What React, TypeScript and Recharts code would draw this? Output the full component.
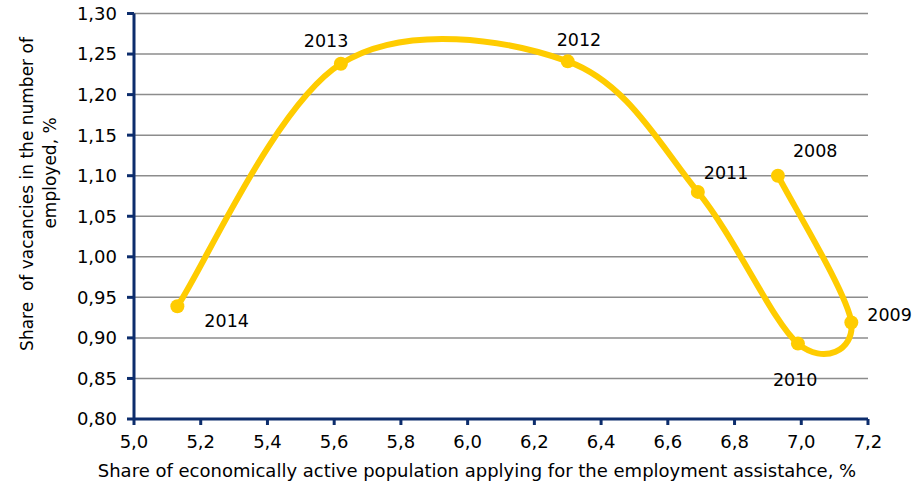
import React from "react";
import { LineChart, Line, XAxis, YAxis, CartesianGrid, LabelList, Label } from "recharts";

const years = ["2008", "2009", "2010", "2011", "2012", "2013", "2014"];
const assistanceShare = [6.93, 7.15, 6.99, 6.69, 6.3, 5.62, 5.13];
const vacancyShare = [1.1, 0.919, 0.893, 1.08, 1.241, 1.238, 0.939];

const xTicks = [5.0, 5.2, 5.4, 5.6, 5.8, 6.0, 6.2, 6.4, 6.6, 6.8, 7.0, 7.2];
const yTicks = [0.8, 0.85, 0.9, 0.95, 1.0, 1.05, 1.1, 1.15, 1.2, 1.25, 1.3];

const rows = years.map((year, i) => ({ year, x: assistanceShare[i], y: vacancyShare[i] }));

// where each year label sits relative to its point
const labelOffset: Record<string, [number, number]> = {
  "2008": [15, -25],
  "2009": [16, -7],
  "2010": [-25, 36],
  "2011": [6, -19],
  "2012": [-11, -21],
  "2013": [-37, -23],
  "2014": [27, 15],
};

const FONT = "'DejaVu Sans', Verdana, sans-serif";
const NAVY = "#0d2d6c";
const YELLOW = "#ffcc00";

// Excel style smoothed line: cubic bezier, control points from neighbours / 6
function excelCurve(context: any) {
  let pts: [number, number][] = [];
  return {
    areaStart() {},
    areaEnd() {},
    lineStart() {
      pts = [];
    },
    point(x: number, y: number) {
      pts.push([+x, +y]);
    },
    lineEnd() {
      if (!pts.length) return;
      context.moveTo(pts[0][0], pts[0][1]);
      for (let i = 0; i < pts.length - 1; i++) {
        const p0 = pts[i - 1] || pts[i];
        const p1 = pts[i];
        const p2 = pts[i + 1];
        const p3 = pts[i + 2] || pts[i + 1];
        context.bezierCurveTo(
          p1[0] + (p2[0] - p0[0]) / 6,
          p1[1] + (p2[1] - p0[1]) / 6,
          p2[0] - (p3[0] - p1[0]) / 6,
          p2[1] - (p3[1] - p1[1]) / 6,
          p2[0],
          p2[1]
        );
      }
    },
  };
}

const yearLabel = (props: any) => {
  const { x, y, value } = props;
  const [dx, dy] = labelOffset[value] || [0, 0];
  return (
    <text x={x + dx} y={y + dy} dominantBaseline="central" fontSize={17.5} fontFamily={FONT} fill="#000">
      {value}
    </text>
  );
};

const yTitle = () => (
  <g fontFamily={FONT} fontSize={17} fill="#000" textAnchor="middle">
    <text x={27} y={194} transform="rotate(-90 27 194)" dominantBaseline="central" style={{ whiteSpace: "pre" }}>
      {"Share  of vacancies in the number of"}
    </text>
    <text x={50} y={173} transform="rotate(-90 50 173)" dominantBaseline="central">
      employed, %
    </text>
  </g>
);

const xTitle = () => (
  <text x={477} y={470} textAnchor="middle" dominantBaseline="central" fontFamily={FONT} fontSize={18} fill="#000">
    Share of economically active population applying for the employment assistahce, %
  </text>
);

export default function App() {
  return (
    <div style={{ position: "absolute", left: 0, top: 0, background: "#fff" }}>
      <LineChart width={921} height={484} data={rows} margin={{ top: 13.5, right: 53, bottom: 0, left: 0 }}>
        <CartesianGrid vertical={false} stroke="#8c8c8c" strokeWidth={1.5} />
        <XAxis
          type="number"
          dataKey="x"
          domain={[5, 7.2]}
          ticks={xTicks}
          interval={0}
          allowDataOverflow
          height={65}
          tickFormatter={(v: number) => v.toFixed(1).replace(".", ",")}
          tick={{ fontSize: 18, fill: "#000", fontFamily: FONT }}
          axisLine={{ stroke: NAVY, strokeWidth: 3 }}
          tickLine={{ stroke: NAVY, strokeWidth: 3 }}
          tickSize={6}
          tickMargin={10}
        >
          <Label content={xTitle} />
        </XAxis>
        <YAxis
          type="number"
          domain={[0.8, 1.3]}
          ticks={yTicks}
          interval={0}
          allowDataOverflow
          width={134}
          tickFormatter={(v: number) => v.toFixed(2).replace(".", ",")}
          tick={{ fontSize: 18, fill: "#000", fontFamily: FONT }}
          axisLine={{ stroke: NAVY, strokeWidth: 3 }}
          tickLine={{ stroke: NAVY, strokeWidth: 3 }}
          tickSize={7}
          tickMargin={10}
        >
          <Label content={yTitle} />
        </YAxis>
        <Line
          dataKey="y"
          type={excelCurve as any}
          stroke={YELLOW}
          strokeWidth={6}
          dot={{ r: 7, fill: YELLOW, stroke: YELLOW, strokeWidth: 0 }}
          activeDot={false}
          isAnimationActive={false}
        >
          <LabelList dataKey="year" content={yearLabel} />
        </Line>
      </LineChart>
    </div>
  );
}
